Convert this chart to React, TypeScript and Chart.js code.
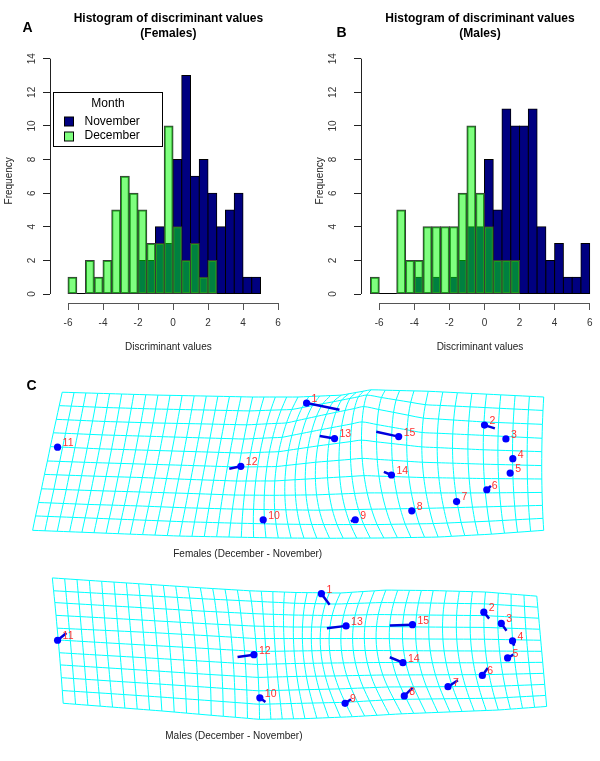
import React, { useEffect, useRef } from 'react';
import { Chart, registerables } from 'chart.js';

Chart.register(...registerables);

const FONT = '"Liberation Sans", Arial, Helvetica, sans-serif';

// ---------------- Histogram data (bin width 0.5) ----------------
const binWidth = 0.5;
const femaleBinStart = -6;
const femaleNovember = [0, 0, 0, 0, 0, 0, 0, 0, 2, 2, 4, 3, 8, 13, 7, 8, 6, 4, 5, 6, 1, 1];
const femaleDecember = [1, 0, 2, 1, 2, 5, 7, 6, 5, 3, 3, 10, 4, 2, 3, 1, 2, 0, 0, 0, 0, 0];
const maleBinStart = -6.5;
const maleNovember = [0, 0, 0, 0, 0, 1, 0, 1, 0, 1, 2, 4, 4, 8, 5, 11, 10, 10, 11, 4, 2, 3, 1, 1, 3];
const maleDecember = [1, 0, 0, 5, 2, 2, 4, 4, 4, 4, 6, 10, 6, 4, 2, 2, 2, 0, 0, 0, 0, 0, 0, 0, 0];
const xTickValues = [-6, -4, -2, 0, 2, 4, 6];
const yTickValues = [0, 2, 4, 6, 8, 10, 12, 14];
const monthLabels = ['November', 'December'];
const monthColors = ['#000080', 'rgba(0,255,0,0.5)'];

// ---------------- Landmark data ----------------
const landmarkIds = [1, 2, 3, 4, 5, 6, 7, 8, 9, 10, 11, 12, 13, 14, 15];
const femaleLmX = [306.7, 487, 508.7, 515.7, 513, 489.3, 458.7, 413.3, 356, 262.7, 54.3, 240, 335, 392.7, 400];
const femaleLmY = [400.3, 423.3, 437.7, 458.3, 473.3, 490.7, 503, 512.7, 522, 522, 446.3, 466.3, 437.3, 475.3, 435.3];
const femaleEndX = [340, 497.5, 510, 516, 513.5, 493.5, 460, 414, 351.5, 263, 54.3, 228.3, 320, 385, 377.3];
const femaleEndY = [407.3, 426.7, 439, 459, 473, 486.7, 502, 512, 523.5, 522.5, 446.3, 468.7, 434.7, 472, 430.3];

const maleLmX = [321.7, 486.3, 504, 515.4, 510.4, 484.8, 450, 405.7, 345.7, 259.3, 54.3, 253.3, 346.7, 404.3, 414];
const maleLmY = [590.7, 610, 621.7, 640, 657.7, 676, 687.7, 697.3, 705, 699.3, 639.3, 654.3, 624.3, 662.7, 623];
const maleEndX = [330, 491.7, 509.3, 517, 516.3, 490.3, 460, 414, 351.7, 265, 63.3, 236.7, 327.3, 391, 391];
const maleEndY = [602.3, 616.7, 629.3, 645, 654.3, 668.3, 681, 689, 700.7, 703.7, 631.7, 656.7, 626.7, 657, 624];

// ---------------- Deformation grid control values ----------------
// grid columns every 4th line (stations), x read at top / middle / bottom row
const gridStep = 4;
const femaleColTop = [59, 107, 156, 205, 252, 298, 342, 372, 430, 489, 547];
const femaleColMid = [44, 94, 143, 192, 238, 276, 316, 363, 424, 486, 545];
const femaleColBot = [29, 79, 128, 178, 228, 278, 330, 385, 440, 494, 547];
const femaleRowY = [
  [389, 390.5, 392, 393, 394, 394, 392, 386.5, 388, 391, 394],
  [403, 405, 406.5, 407.5, 408.5, 407, 399, 392, 402, 405, 408],
  [417.3, 419.5, 421, 422, 423, 421, 412, 404, 416, 420, 422.5],
  [431.3, 433.5, 435, 436.5, 437.8, 436, 428, 420, 431, 434, 437],
  [445.7, 448, 449.5, 451, 452.4, 451, 445, 439, 446, 449, 451],
  [460.7, 462.5, 464, 465.5, 467, 466.5, 462, 458, 462, 464, 465.5],
  [474.7, 476.5, 478, 480, 481.6, 481.5, 479, 476, 478, 479, 479.5],
  [489.7, 491.5, 493, 494.5, 496.2, 496.5, 496, 494, 494, 494, 493.5],
  [504, 506, 507.5, 509.5, 510.8, 511.5, 512, 511, 510, 508.5, 507],
  [518, 520, 522, 524, 525.4, 526.5, 527, 527, 526, 523.5, 520.5],
  [533, 535, 537, 539, 540, 541, 541.3, 541, 540, 537, 533],
];

const maleColTop = [49, 99, 149, 199, 249, 296, 341, 387, 435, 488, 540];
const maleColMid = [55, 104, 155, 207, 256, 294, 330, 378, 432, 488, 545];
const maleColBot = [60, 110, 160, 210, 259, 305, 353, 403, 452, 501, 550];
const maleRowY = [
  [574.3, 577.8, 581.2, 584.6, 587.7, 589.5, 590, 587, 587.5, 589, 593.3],
  [587.7, 590.5, 593.2, 596, 598.5, 600.7, 601.5, 600, 600.5, 601.3, 604.8],
  [600, 603, 606, 609, 611.5, 613, 613.5, 612.5, 613, 613.6, 616.3],
  [613.3, 616, 619, 622, 624.5, 625.5, 625.5, 625, 625.5, 625.9, 627.8],
  [626.7, 629, 631.5, 634.5, 637.5, 637.5, 637.5, 637.5, 638, 638.2, 639.3],
  [639, 642, 645, 648, 651, 650.5, 650, 650, 650.3, 650.5, 650.8],
  [652.3, 655.3, 658.3, 661.5, 664.5, 663.5, 663, 662.5, 662.7, 662.8, 662.3],
  [665, 668.2, 671.5, 675, 678, 677, 676.5, 675.5, 675.3, 675.1, 673.8],
  [678.3, 681.7, 685, 688.5, 692, 691, 690, 688, 687.7, 687.4, 685.3],
  [691.7, 695, 698.5, 702.3, 706, 705, 704, 701, 700.3, 699.7, 696.8],
  [705, 709, 713, 717.5, 721.7, 721, 719, 716, 714, 712, 708.3],
];

function buildGrid(colTop: number[], colMid: number[], colBot: number[], rows: number[][]) {
  const nStations = colTop.length;
  const nCols = (nStations - 1) * gridStep + 1;
  const nRows = rows.length;
  const last = nRows - 1;
  const mid = last / 2;
  const colX = (k: number, j: number) => {
    const L0 = ((j - mid) * (j - last)) / ((0 - mid) * (0 - last));
    const L1 = ((j - 0) * (j - last)) / ((mid - 0) * (mid - last));
    const L2 = ((j - 0) * (j - mid)) / ((last - 0) * (last - mid));
    return colTop[k] * L0 + colMid[k] * L1 + colBot[k] * L2;
  };
  const nodes: { x: number; y: number }[][] = [];
  for (let j = 0; j < nRows; j++) {
    const row: { x: number; y: number }[] = [];
    for (let i = 0; i < nCols; i++) {
      const k = Math.min(Math.floor(i / gridStep), nStations - 2);
      const t = (i - k * gridStep) / gridStep;
      const x = colX(k, j) * (1 - t) + colX(k + 1, j) * t;
      const y = rows[j][k] * (1 - t) + rows[j][k + 1] * t;
      row.push({ x, y });
    }
    nodes.push(row);
  }
  const lines: { x: number; y: number }[][] = [];
  nodes.forEach((r) => lines.push(r));
  for (let i = 0; i < nCols; i++) lines.push(nodes.map((r) => r[i]));
  return lines;
}

function Histogram(props: any) {
  const ref = useRef<HTMLCanvasElement>(null);
  const {
    left, top, width, height, november, december, binStart, xMin, xMax, padRight,
    yAxisWidth, yTickPad, yTitlePad, titleLines, letter, letterX, letterY, showLegend,
  } = props;

  useEffect(() => {
    const toPoints = (vals: number[]) => vals.map((v, i) => ({ x: binStart + (i + 0.5) * binWidth, y: v }));
    const decor = {
      id: 'histDecor',
      beforeDatasetsDraw(chart: any) {
        const { ctx, scales } = chart;
        const x = scales.x, y = scales.y;
        ctx.save();
        const y0 = Math.round(y.getPixelForValue(0)) - 0.5;
        ctx.strokeStyle = '#000';
        ctx.lineWidth = 1;
        ctx.beginPath();
        ctx.moveTo(x.getPixelForValue(binStart), y0);
        ctx.lineTo(x.getPixelForValue(binStart + november.length * binWidth), y0);
        ctx.stroke();
        ctx.restore();
      },
      afterDraw(chart: any) {
        const { ctx, chartArea: ca, scales } = chart;
        const x = scales.x, y = scales.y;
        ctx.save();
        ctx.lineWidth = 1;
        // x axis line (only over tick range)
        ctx.strokeStyle = '#555';
        const ay = Math.round(ca.bottom) + 0.5;
        ctx.beginPath();
        ctx.moveTo(x.getPixelForValue(xTickValues[0]), ay);
        ctx.lineTo(x.getPixelForValue(xTickValues[xTickValues.length - 1]), ay);
        ctx.stroke();
        // y axis line
        ctx.strokeStyle = '#222';
        const ax = Math.round(ca.left) + 0.5;
        ctx.beginPath();
        ctx.moveTo(ax, y.getPixelForValue(yTickValues[0]));
        ctx.lineTo(ax, y.getPixelForValue(yTickValues[yTickValues.length - 1]));
        ctx.stroke();
        // titles
        ctx.fillStyle = '#000';
        ctx.textAlign = 'center';
        ctx.textBaseline = 'middle';
        ctx.font = `bold 12px ${FONT}`;
        const cx = (ca.left + ca.right) / 2;
        ctx.fillText(titleLines[0], cx, 18.3);
        ctx.fillText(titleLines[1], cx, 33.3);
        ctx.font = `bold 14px ${FONT}`;
        ctx.fillText(letter, letterX, letterY);
        // legend
        if (showLegend) {
          const bx = Math.round(ca.left + 3) + 0.5;
          const by = Math.round(ca.top + 33.3) + 0.5;
          const bw = 109, bh = 54;
          ctx.fillStyle = '#fff';
          ctx.fillRect(bx, by, bw, bh);
          ctx.strokeStyle = '#000';
          ctx.strokeRect(bx, by, bw, bh);
          ctx.fillStyle = '#000';
          ctx.font = `12px ${FONT}`;
          ctx.textAlign = 'center';
          ctx.fillText('Month', bx + bw / 2, by + 11);
          ctx.textAlign = 'left';
          monthLabels.forEach((lab, i) => {
            const cy = by + 29.3 + i * 14.2;
            ctx.fillStyle = '#fff';
            ctx.fillRect(bx + 11, Math.round(cy - 4.5), 9, 9);
            ctx.fillStyle = monthColors[i];
            ctx.fillRect(bx + 11, Math.round(cy - 4.5), 9, 9);
            ctx.strokeStyle = '#000';
            ctx.strokeRect(bx + 11, Math.round(cy - 4.5), 9, 9);
            ctx.fillStyle = '#000';
            ctx.fillText(lab, bx + 31, cy);
          });
        }
        ctx.restore();
      },
    };

    const chart = new Chart(ref.current as HTMLCanvasElement, {
      type: 'bar',
      data: {
        datasets: [
          {
            label: monthLabels[0],
            data: toPoints(november),
            backgroundColor: monthColors[0],
            borderColor: '#000000',
            borderWidth: 1,
            borderSkipped: false,
            inflateAmount: 0.5,
            grouped: false,
            barPercentage: 1,
            categoryPercentage: 1,
            order: 1,
          } as any,
          {
            label: monthLabels[1],
            data: toPoints(december),
            backgroundColor: monthColors[1],
            borderColor: '#3a3a3a',
            borderWidth: 1,
            borderSkipped: false,
            inflateAmount: 0.5,
            grouped: false,
            barPercentage: 1,
            categoryPercentage: 1,
            order: 0,
          } as any,
        ],
      },
      options: {
        animation: false,
        responsive: false,
        events: [],
        layout: { padding: { left: 0, right: padRight, top: 58.7, bottom: 0 } },
        plugins: { legend: { display: false }, tooltip: { enabled: false }, title: { display: false } },
        scales: {
          x: {
            type: 'linear',
            min: xMin,
            max: xMax,
            offset: false,
            afterBuildTicks: (s: any) => { s.ticks = xTickValues.map((v) => ({ value: v })); },
            afterFit: (s: any) => { s.height = 57; },
            grid: { offset: false, drawOnChartArea: false, drawTicks: true, tickLength: 7, color: '#555', lineWidth: 1 },
            border: { display: false },
            ticks: { autoSkip: false, maxRotation: 0, padding: 7, color: '#333', font: { family: FONT, size: 10 } },
            title: { display: true, text: 'Discriminant values', color: '#222', font: { family: FONT, size: 10 }, padding: { top: 0, bottom: 7 } },
          } as any,
          y: {
            type: 'linear',
            min: -0.535,
            max: 14,
            afterBuildTicks: (s: any) => { s.ticks = yTickValues.map((v) => ({ value: v })); },
            afterFit: (s: any) => { s.width = yAxisWidth; },
            grid: { drawOnChartArea: false, drawTicks: true, tickLength: 7, color: '#222', lineWidth: 1 },
            border: { display: false },
            ticks: { autoSkip: false, minRotation: 90, maxRotation: 90, crossAlign: 'center', padding: yTickPad, color: '#333', font: { family: FONT, size: 10 } },
            title: { display: true, text: 'Frequency', color: '#222', font: { family: FONT, size: 10 }, padding: { top: yTitlePad, bottom: 0 } },
          } as any,
        },
      },
      plugins: [decor],
    });
    return () => chart.destroy();
  }, []);

  return (
    <canvas
      ref={ref}
      width={width}
      height={height}
      style={{ position: 'absolute', left, top, width, height, display: 'block' }}
    />
  );
}

function ShapeGrid(props: any) {
  const ref = useRef<HTMLCanvasElement>(null);
  const { top, height, colTop, colMid, colBot, rowY, lmX, lmY, endX, endY, caption, captionX, captionY, letter } = props;

  useEffect(() => {
    const gridLines = buildGrid(colTop, colMid, colBot, rowY);
    const points = lmX.map((x: number, i: number) => ({ x, y: lmY[i] }));
    const vectors = lmX.map((x: number, i: number) => [{ x, y: lmY[i] }, { x: endX[i], y: endY[i] }]);

    const labels = {
      id: 'lmLabels',
      afterDatasetsDraw(chart: any) {
        const { ctx, scales } = chart;
        const x = scales.x, y = scales.y;
        ctx.save();
        ctx.font = `10.5px ${FONT}`;
        ctx.fillStyle = '#ff3030';
        ctx.textAlign = 'left';
        ctx.textBaseline = 'middle';
        lmX.forEach((vx: number, i: number) => {
          ctx.fillText(String(landmarkIds[i]), x.getPixelForValue(vx) + 5, y.getPixelForValue(lmY[i]) - 4);
        });
        ctx.fillStyle = '#222';
        ctx.font = `10px ${FONT}`;
        ctx.textAlign = 'center';
        ctx.fillText(caption, x.getPixelForValue(captionX), y.getPixelForValue(captionY));
        if (letter) {
          ctx.fillStyle = '#000';
          ctx.font = `bold 14px ${FONT}`;
          ctx.fillText(letter, x.getPixelForValue(28), y.getPixelForValue(383));
        }
        ctx.restore();
      },
    };

    const datasets: any[] = [
      { data: points, showLine: false, pointRadius: 3.6, pointBackgroundColor: '#0000ff', pointBorderWidth: 0, order: 0 },
      ...vectors.map((v: any) => ({ data: v, showLine: true, borderColor: '#0000dd', borderWidth: 2.5, pointRadius: 0, order: 1 })),
      ...gridLines.map((g) => ({ data: g, showLine: true, borderColor: '#00ffff', borderWidth: 1, pointRadius: 0, tension: 0.3, order: 2 })),
    ];

    const chart = new Chart(ref.current as HTMLCanvasElement, {
      type: 'scatter',
      data: { datasets },
      options: {
        animation: false,
        responsive: false,
        events: [],
        layout: { padding: 0 },
        plugins: { legend: { display: false }, tooltip: { enabled: false } },
        scales: {
          x: { type: 'linear', display: false, min: 0, max: 600 },
          y: { type: 'linear', display: false, min: top, max: top + height, reverse: true },
        },
      },
      plugins: [labels],
    });
    return () => chart.destroy();
  }, []);

  return (
    <canvas
      ref={ref}
      width={600}
      height={height}
      style={{ position: 'absolute', left: 0, top, width: 600, height, display: 'block' }}
    />
  );
}

export default function App() {
  return (
    <div style={{ position: 'fixed', left: 0, top: 0, width: 600, height: 761, background: '#fff', overflow: 'hidden' }}>
      <Histogram
        left={0} top={0} width={300} height={360}
        november={femaleNovember} december={femaleDecember} binStart={femaleBinStart}
        xMin={-7.03} xMax={6.5} padRight={13.25}
        yAxisWidth={50} yTickPad={5} yTitlePad={3}
        titleLines={['Histogram of discriminant values', '(Females)']}
        letter="A" letterX={27.5} letterY={28} showLegend={true}
      />
      <Histogram
        left={300} top={0} width={300} height={360}
        november={maleNovember} december={maleDecember} binStart={maleBinStart}
        xMin={-7.04} xMax={6.53} padRight={1}
        yAxisWidth={61} yTickPad={15} yTitlePad={14.7}
        titleLines={['Histogram of discriminant values', '(Males)']}
        letter="B" letterX={41.5} letterY={33} showLegend={false}
      />
      <ShapeGrid
        top={370} height={195}
        colTop={femaleColTop} colMid={femaleColMid} colBot={femaleColBot} rowY={femaleRowY}
        lmX={femaleLmX} lmY={femaleLmY} endX={femaleEndX} endY={femaleEndY}
        caption="Females (December - November)" captionX={247} captionY={557.7} letter="C"
      />
      <ShapeGrid
        top={565} height={196}
        colTop={maleColTop} colMid={maleColMid} colBot={maleColBot} rowY={maleRowY}
        lmX={maleLmX} lmY={maleLmY} endX={maleEndX} endY={maleEndY}
        caption="Males (December - November)" captionX={233} captionY={739.3} letter=""
      />
    </div>
  );
}
